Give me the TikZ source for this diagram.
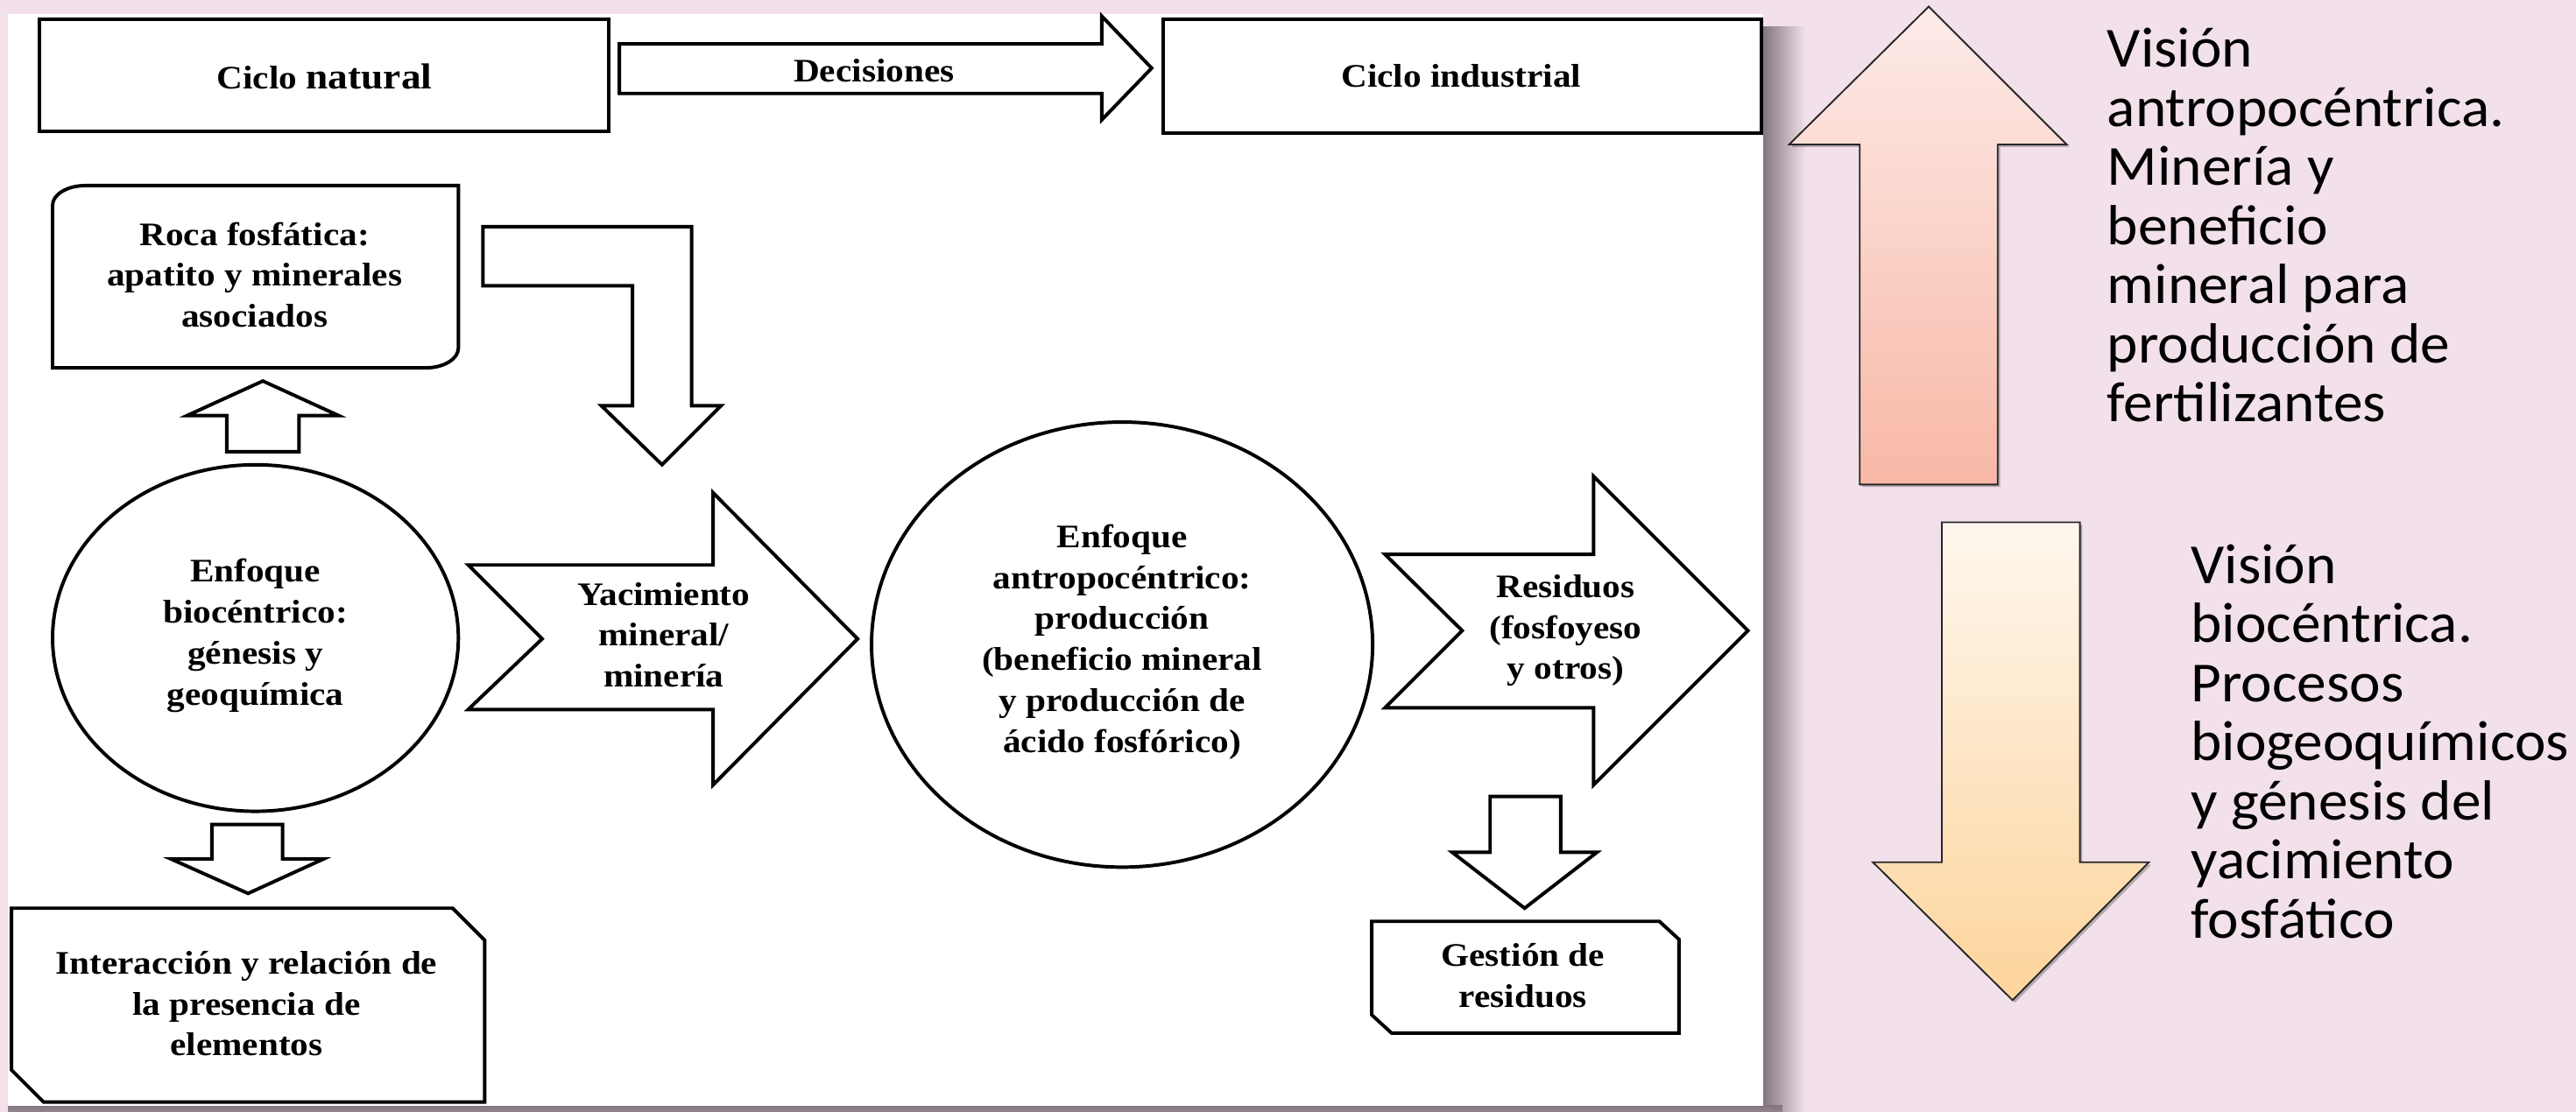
\documentclass[tikz,border=0pt]{standalone}
\usepackage{fontspec}
\usetikzlibrary{shapes.geometric}
\newfontfamily\diagfont{Liberation Serif}[FakeStretch=1.1]
\newfontfamily\sidefont{Carlito}[FakeStretch=1.04]
\definecolor{pagebg}{RGB}{242,225,234}
\definecolor{shadowgray}{RGB}{130,117,125}
\definecolor{pinktop}{RGB}{253,235,233}
\definecolor{pinkbot}{RGB}{248,184,166}
\definecolor{orangetop}{RGB}{254,247,238}
\definecolor{orangebot}{RGB}{253,212,155}
\begin{document}
\begin{tikzpicture}[x=1pt,y=-1pt,
  outline/.style={draw=black, line width=2.1pt, fill=white, line join=miter},
  boxnode/.style={outline, rectangle, inner sep=0pt},
  ellnode/.style={outline, ellipse, inner sep=0pt, align=center,
    font=\diagfont\bfseries\fontsize{20}{25}\selectfont,
    execute at begin node=\strut, execute at end node=\strut},
  lbl/.style={inner sep=0pt, align=center,
    font=\diagfont\bfseries\fontsize{20}{25}\selectfont,
    execute at begin node=\strut, execute at end node=\strut},
  side/.style={inner sep=0pt, align=left, anchor=west,
    font=\sidefont\fontsize{34.5}{36}\selectfont,
    execute at begin node=\strut, execute at end node=\strut},
  sidearrow/.style={draw=black!85, line width=1pt, line join=miter,
    preaction={fill=black, opacity=0.25, transform canvas={xshift=1.5pt, yshift=-1.5pt}}}
]
\useasboundingbox (0,0) rectangle (1568,677);

% page background, panel shadow and white panel
\fill[pagebg] (0,0) rectangle (1568,677);
\shade[left color=shadowgray, right color=pagebg] (1073,16) rectangle (1099,677);
\shade[top color=shadowgray, bottom color=shadowgray!85!pagebg] (5,673) rectangle (1085,677);
\fill[white] (5,8.5) rectangle (1073,673.5);

% top row
\node[boxnode, minimum width=346.9pt, minimum height=68.4pt] (natural) at (197.25,45.8) {};
\node[lbl] (naturalT) at (197.5,49.2) {Ciclo {\fontsize{22}{25}\selectfont natural}};
\node[boxnode, minimum width=364pt, minimum height=69.3pt] (industrial) at (890,46.25) {};
\node[lbl] (industrialT) at (889.5,48) {Ciclo industrial};
\draw[outline] (377,26.7) -- (670.6,26.7) -- (670.6,9.8) -- (701,41.5)
  -- (670.6,73) -- (670.6,56.9) -- (377,56.9) -- cycle;
\node[lbl] (decT) at (532,44.8) {Decisiones};

% phosphate rock box (two rounded corners)
\draw[outline] (32,224) -- (32,125) .. controls (32,118.37) and (40.95,113) .. (52,113)
  -- (279,113) -- (279,212) .. controls (279,218.63) and (270.05,224) .. (259,224) -- cycle;
\node[lbl] (rocaT) at (155,171) {Roca fosfática:\\apatito y minerales\\asociados};

% bent arrow towards the deposit
\draw[outline] (294,138) -- (421,138) -- (421,247) -- (439,247) -- (403,283)
  -- (366,247) -- (385,247) -- (385,174) -- (294,174) -- cycle;

% biocentric approach
\draw[outline] (160,232) -- (206,253) -- (182,253) -- (182,275) -- (138,275)
  -- (138,253) -- (114,253) -- cycle;
\node[ellnode, minimum width=247pt, minimum height=211pt] (bio) at (155.5,388.5)
  {Enfoque\\biocéntrico:\\génesis y\\geoquímica};
\draw[outline] (129,502) -- (172,502) -- (172,523) -- (197,523) -- (151,544)
  -- (104,523) -- (129,523) -- cycle;
\draw[outline] (7,553) -- (275.5,553) -- (295,572.5) -- (295,671) -- (26.5,671)
  -- (7,651.5) -- cycle;
\node[lbl] (interT) at (150,614.75) {Interacción y relación de\\la presencia de\\elementos};

% deposit / mining arrow
\draw[outline] (285,344) -- (434,344) -- (434,300) -- (522,389) -- (434,478)
  -- (434,432) -- (285,432) -- (330,389) -- cycle;
\node[lbl] (yacT) at (404,390.25) {Yacimiento\\mineral/\\minería};

% anthropocentric approach
\node[ellnode, minimum width=305pt, minimum height=271pt] (antro) at (683,392.5)
  {Enfoque\\antropocéntrico:\\producción\\(beneficio mineral\\y producción de\\ácido fosfórico)};

% waste arrow and waste management
\draw[outline] (843,337.5) -- (970,337.5) -- (970,290) -- (1064,384) -- (970,478)
  -- (970,431) -- (843,431) -- (890,384) -- cycle;
\node[lbl] (resT) at (953,385.5) {Residuos\\(fosfoyeso\\y otros)};
\draw[outline] (907,485) -- (950,485) -- (950,519) -- (972,519) -- (928,553)
  -- (884,519) -- (907,519) -- cycle;
\draw[outline] (835,561) -- (1010,561) -- (1022,572) -- (1022,629) -- (847,629)
  -- (835,618) -- cycle;
\node[lbl] (gesT) at (927,597.5) {Gestión de\\residuos};

% side arrows and captions
\draw[sidearrow, top color=pinktop, bottom color=pinkbot]
  (1174,4) -- (1258,88) -- (1216,88) -- (1216,295) -- (1132,295) -- (1132,88)
  -- (1089,88) -- cycle;
\node[side] (upT) at (1282.5,142.45)
  {Visión\\antropocéntrica.\\Minería y\\beneficio\\mineral para\\producción de\\fertilizantes};
\draw[sidearrow, top color=orangetop, bottom color=orangebot]
  (1182,318) -- (1266,318) -- (1266,525) -- (1308,525) -- (1225,609) -- (1140,525)
  -- (1182,525) -- cycle;
\node[side] (downT) at (1333.5,456.75)
  {Visión\\biocéntrica.\\Procesos\\biogeoquímicos\\y génesis del\\yacimiento\\fosfático};
\end{tikzpicture}
\end{document}
